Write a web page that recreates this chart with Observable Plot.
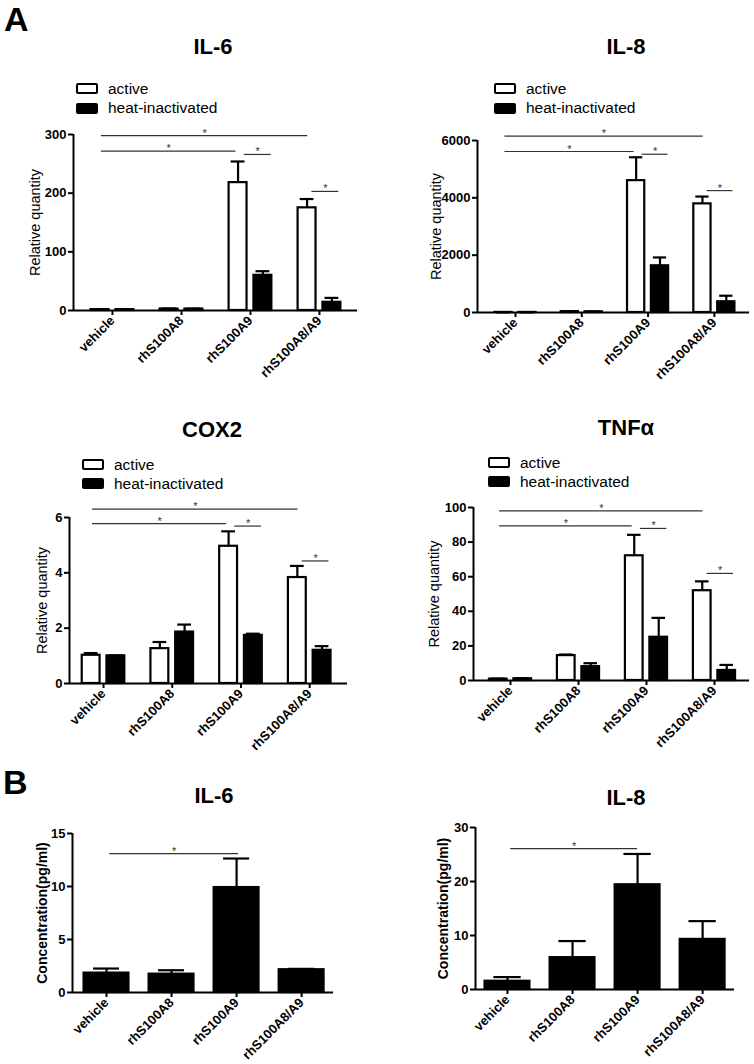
<!DOCTYPE html>
<html><head><meta charset="utf-8">
<script src="https://cdn.jsdelivr.net/npm/d3@7"></script>
<script src="https://cdn.jsdelivr.net/npm/@observablehq/plot@0.6"></script>
<style>
body{margin:0;background:#fff;font-family:"Liberation Sans",Arial,sans-serif;color:#000;}
#fig{position:relative;width:754px;height:1064px;overflow:hidden;background:#fff;}
.abs{position:absolute;}
.title{font-weight:bold;font-size:22px;line-height:22px;transform:translate(-50%,-50%);white-space:nowrap;}
.panel{font-weight:bold;font-size:34px;line-height:34px;}
.legrow{display:flex;align-items:center;height:20px;font-size:15.5px;white-space:nowrap;}
.sw{box-sizing:border-box;width:22px;height:11px;border:2px solid #000;border-radius:2px;margin-right:10px;}
svg{overflow:visible;}
</style></head><body><div id="fig"></div>
<script>
const categories = ["vehicle", "rhS100A8", "rhS100A9", "rhS100A8/A9"];
const seriesNames = ["active", "heat-inactivated"];

// Panel A, IL-6 (relative quantity)
const il6A_active = [1.5, 2.5, 218, 175];
const il6A_activeErr = [0.5, 0.8, 36, 15];
const il6A_heat = [1.5, 2.5, 60, 14];
const il6A_heatErr = [0.3, 0.6, 7, 7.5];
const il6A_ticks = [0, 100, 200, 300];
const il6A_sig = [[-0.16, 2.83, 298], [-0.16, 1.79, 271.5], [1.91, 2.30, 266], [2.89, 3.28, 203]];

// Panel A, IL-8
const il8A_active = [3, 30, 4600, 3790];
const il8A_activeErr = [2, 8, 815, 255];
const il8A_heat = [3, 25, 1630, 375];
const il8A_heatErr = [2, 6, 290, 210];
const il8A_ticks = [0, 2000, 4000, 6000];
const il8A_sig = [[-0.16, 2.83, 6150], [-0.16, 1.79, 5616], [1.91, 2.30, 5521], [2.89, 3.28, 4253]];

// Panel A, COX2
const cox2_active = [1.02, 1.26, 4.96, 3.83];
const cox2_activeErr = [0.08, 0.24, 0.54, 0.42];
const cox2_heat = [1.0, 1.86, 1.74, 1.2];
const cox2_heatErr = [0.01, 0.27, 0.06, 0.15];
const cox2_ticks = [0, 2, 4, 6];
const cox2_sig = [[-0.16, 2.83, 6.3], [-0.16, 1.79, 5.78], [1.91, 2.30, 5.69], [2.89, 3.28, 4.43]];

// Panel A, TNFα
const tnf_active = [0.8, 14.4, 72.1, 51.9];
const tnf_activeErr = [0.3, 0.6, 12.1, 5.4];
const tnf_heat = [1.0, 8, 25, 5.8];
const tnf_heatErr = [0.4, 2, 11.2, 3.2];
const tnf_ticks = [0, 20, 40, 60, 80, 100];
const tnf_sig = [[-0.16, 2.83, 98.1], [-0.16, 1.79, 89.4], [1.91, 2.30, 87.9], [2.89, 3.28, 61.9]];

// Panel B, IL-6 (pg/ml)
const il6B_values = [1.83, 1.73, 9.9, 2.15];
const il6B_err = [0.43, 0.37, 2.74, 0.08];
const il6B_ticks = [0, 5, 10, 15];
const il6B_sig = [[0.05, 2.03, 13.1]];

// Panel B, IL-8 (pg/ml)
const il8B_values = [1.53, 5.9, 19.4, 9.28];
const il8B_err = [0.77, 3.07, 5.7, 3.38];
const il8B_ticks = [0, 10, 20, 30];
const il8B_sig = [[0.05, 2.0, 26.1]];

const FONT = '"Liberation Sans", Arial, sans-serif';
const fig = document.getElementById("fig");

function addDiv(cls, text, x, y) {
  const d = document.createElement("div");
  d.className = "abs " + cls;
  d.textContent = text;
  d.style.left = x + "px";
  d.style.top = y + "px";
  fig.appendChild(d);
  return d;
}

function legend(x, yc1, yc2) {
  [[yc1, "#fff", seriesNames[0]], [yc2, "#000", seriesNames[1]]].forEach(([yc, fill, name]) => {
    const row = document.createElement("div");
    row.className = "abs legrow";
    row.style.left = x + "px";
    row.style.top = (yc - 10) + "px";
    const sw = document.createElement("div");
    sw.className = "sw";
    sw.style.background = fill;
    const t = document.createElement("span");
    t.textContent = name;
    row.appendChild(sw);
    row.appendChild(t);
    fig.appendChild(row);
  });
}

function chart(L, rows, halfCap, sig, ticks, ylabel, labelStyle) {
  const sigRows = sig.map(([x1, x2, y]) => ({x1, x2, y}));
  const svg = Plot.plot({
    width: L.width, height: L.height,
    marginLeft: L.ml, marginRight: L.mr, marginTop: L.mt, marginBottom: L.mb,
    x: {domain: L.xDomain},
    y: {domain: [0, L.yMax]},
    style: {fontFamily: FONT, background: "transparent", overflow: "visible", color: "#000"},
    marks: [
      Plot.ruleY(sigRows, {x1: "x1", x2: "x2", y: "y", stroke: "#333", strokeWidth: 1.2}),
      Plot.text(sigRows, {x: d => (d.x1 + d.x2) / 2, y: "y", text: () => "*", fontSize: 11, lineAnchor: "bottom", dy: 1, fill: "#333"}),
      Plot.ruleX(rows, {x: d => (d.x1 + d.x2) / 2, y1: "v", y2: d => d.v + d.e, stroke: "#000", strokeWidth: 2.2}),
      Plot.ruleY(rows, {y: d => d.v + d.e, x1: d => (d.x1 + d.x2) / 2 - halfCap, x2: d => (d.x1 + d.x2) / 2 + halfCap, stroke: "#000", strokeWidth: 2.2}),
      Plot.rectY(rows, {x1: "x1", x2: "x2", y1: 0, y2: "v", fill: "fill", stroke: "#000", strokeWidth: 2.2}),
      Plot.ruleX([L.xDomain[0]], {stroke: "#000", strokeWidth: 2}),
      Plot.ruleY([0], {stroke: "#000", strokeWidth: 2}),
      Plot.axisY({ticks, tickFormat: d => String(d), tickSize: 5, tickPadding: 2, fontWeight: "bold", fontSize: 13, strokeWidth: 2, label: null}),
      Plot.axisX({ticks: [0, 1, 2, 3], tickFormat: i => categories[i], tickRotate: -45, tickSize: 5, tickPadding: 3,
        fontWeight: "bold", fontSize: 13, strokeWidth: 2, label: null}),
      Plot.text([ylabel], {text: d => d, frameAnchor: "left", textAnchor: "middle", lineAnchor: "middle", rotate: -90, dx: L.labelDx,
        fontSize: labelStyle.size, fontWeight: labelStyle.weight, fill: "#000"})
    ]
  });
  svg.style.position = "absolute";
  svg.style.left = L.left + "px";
  svg.style.top = L.top + "px";
  fig.appendChild(svg);
}

function groupedRows(active, activeErr, heat, heatErr) {
  const rows = [];
  categories.forEach((c, i) => {
    rows.push({x1: i - 0.31, x2: i - 0.05, v: active[i], e: activeErr[i], fill: "#fff"});
    rows.push({x1: i + 0.05, x2: i + 0.31, v: heat[i], e: heatErr[i], fill: "#000"});
  });
  return rows;
}
function singleRows(values, err) {
  return categories.map((c, i) => ({x1: i - 0.345, x2: i + 0.345, v: values[i], e: err[i], fill: "#000"}));
}

const layout = {
  il6A: {left: 0, top: 115, width: 377, height: 250, ml: 73, mr: 20, mt: 19, mb: 55, xDomain: [-0.565, 3.551], yMax: 300, labelDx: -38},
  il8A: {left: 377, top: 115, width: 377, height: 250, ml: 100, mr: 5, mt: 25, mb: 53, xDomain: [-0.573, 3.53], yMax: 6000, labelDx: -41},
  cox2: {left: 0, top: 495, width: 377, height: 240, ml: 69, mr: 30, mt: 22, mb: 52, xDomain: [-0.495, 3.55], yMax: 6, labelDx: -27},
  tnf: {left: 377, top: 490, width: 377, height: 245, ml: 96, mr: 5, mt: 17, mb: 55, xDomain: [-0.544, 3.515], yMax: 100, labelDx: -39},
  il6B: {left: 0, top: 815, width: 377, height: 249, ml: 72, mr: 44, mt: 18, mb: 72, xDomain: [-0.523, 3.49], yMax: 15, labelDx: -30},
  il8B: {left: 377, top: 810, width: 377, height: 254, ml: 98, mr: 20, mt: 17, mb: 75, xDomain: [-0.492, 3.49], yMax: 30, labelDx: -32}
};
const relLabel = {size: 14.5, weight: "normal"};
const concLabel = {size: 14, weight: "bold"};

chart(layout.il6A, groupedRows(il6A_active, il6A_activeErr, il6A_heat, il6A_heatErr), 0.1, il6A_sig, il6A_ticks, "Relative quantity", relLabel);
chart(layout.il8A, groupedRows(il8A_active, il8A_activeErr, il8A_heat, il8A_heatErr), 0.1, il8A_sig, il8A_ticks, "Relative quantity", relLabel);
chart(layout.cox2, groupedRows(cox2_active, cox2_activeErr, cox2_heat, cox2_heatErr), 0.1, cox2_sig, cox2_ticks, "Relative quantity", relLabel);
chart(layout.tnf, groupedRows(tnf_active, tnf_activeErr, tnf_heat, tnf_heatErr), 0.1, tnf_sig, tnf_ticks, "Relative quantity", relLabel);
chart(layout.il6B, singleRows(il6B_values, il6B_err), 0.2, il6B_sig, il6B_ticks, "Concentration(pg/ml)", concLabel);
chart(layout.il8B, singleRows(il8B_values, il8B_err), 0.21, il8B_sig, il8B_ticks, "Concentration(pg/ml)", concLabel);

addDiv("panel", "A", 4, 2);
addDiv("panel", "B", 3, 765);
addDiv("title", "IL-6", 213, 47);
addDiv("title", "IL-8", 626, 47);
addDiv("title", "COX2", 212, 430);
addDiv("title", "TNFα", 626, 428);
addDiv("title", "IL-6", 214, 796);
addDiv("title", "IL-8", 626, 798);
legend(76, 88.5, 108);
legend(494, 88.5, 108);
legend(82, 464.5, 483.5);
legend(488, 462.5, 481.5);
</script></body></html>
